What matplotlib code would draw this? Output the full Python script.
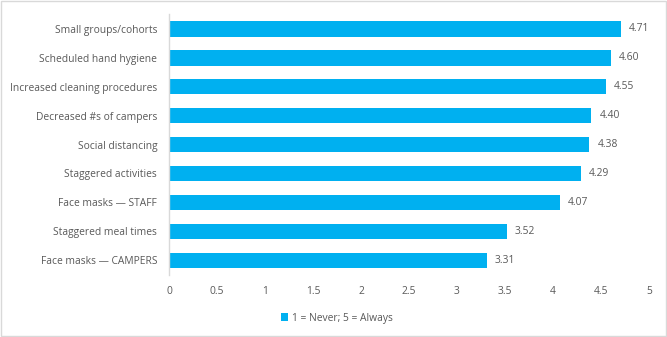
import matplotlib.pyplot as plt
from matplotlib.patches import Rectangle

plt.rcParams['font.family'] = ['Open Sans', 'DejaVu Sans']

practices = [
    "Small groups/cohorts",
    "Scheduled hand hygiene",
    "Increased cleaning procedures",
    "Decreased #s of campers",
    "Social distancing",
    "Staggered activities",
    "Face masks \u2014 STAFF",
    "Staggered meal times",
    "Face masks \u2014 CAMPERS",
]
scores = [4.71, 4.60, 4.55, 4.40, 4.38, 4.29, 4.07, 3.52, 3.31]
x_ticks = [0, 0.5, 1, 1.5, 2, 2.5, 3, 3.5, 4, 4.5, 5]
x_tick_labels = ["0", "0.5", "1", "1.5", "2", "2.5", "3", "3.5", "4", "4.5", "5"]

blue = "#00B0F0"
grey = "#595959"
fs = 7.4

fig = plt.figure(figsize=(6.67, 3.37), dpi=100)
ax = fig.add_axes([0.2534, 0.185, 0.7196, 0.772])

pos = list(range(len(practices)))
ax.barh(pos, scores, height=0.53, color=blue, label="1 = Never; 5 = Always")
for p, s in zip(pos, scores):
    ax.text(s + 0.085, p, f"{s:.2f}", va="center", ha="left", fontsize=fs, color=grey)

ax.set_ylim(len(practices) - 0.5, -0.5)
ax.set_xlim(0, 5)
ax.set_yticks(pos)
ax.set_yticklabels(practices, fontsize=fs, color=grey)
ax.set_xticks(x_ticks)
ax.set_xticklabels(x_tick_labels, fontsize=fs, color=grey)
ax.tick_params(axis="both", length=0)
ax.tick_params(axis="x", pad=8)
ax.tick_params(axis="y", pad=8.5)

for side in ["top", "right", "bottom"]:
    ax.spines[side].set_visible(False)
ax.spines["left"].set_color("#D9D9D9")
ax.spines["left"].set_linewidth(1)

fig.legend(loc="center", bbox_to_anchor=(0.505, 0.056), frameon=False,
           fontsize=fs, handlelength=0.7, handleheight=0.7, handletextpad=0.3,
           labelcolor=grey)

fig.patches.append(Rectangle((0.001, 0.002), 0.997, 0.995, transform=fig.transFigure,
                             fill=False, edgecolor="#D9D9D9", linewidth=1))

fig.savefig("out.png", dpi=100)
